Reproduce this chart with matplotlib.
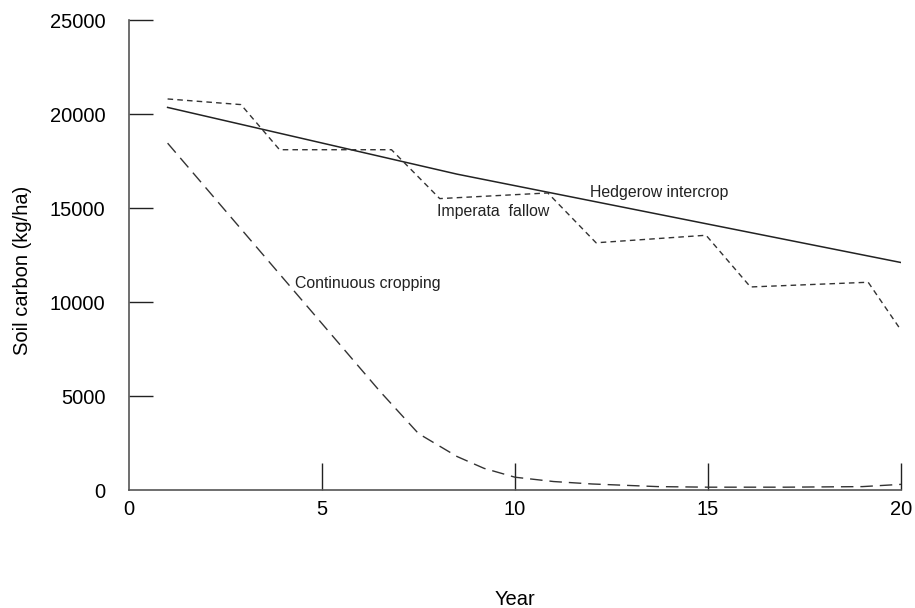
import matplotlib
matplotlib.use("Agg")
import matplotlib.pyplot as plt

plt.rcParams['font.family'] = ['Liberation Sans', 'DejaVu Sans']

# hedgerow intercrop (solid)
hedge_x = [1, 8.5, 20]
hedge_y = [20350, 16800, 12100]

# imperata fallow (short dashes)
fallow_x = [1, 2.9, 3.9, 6.8, 8.05, 10.85, 12.1, 14.95, 16.1, 19.15, 20]
fallow_y = [20800, 20500, 18100, 18100, 15500, 15800, 13150, 13550, 10800, 11050, 8500]

# continuous cropping (long dashes)
cont_x = [1, 6.5, 7.5, 8.5, 9.2, 10, 11, 12, 13.7, 15, 17, 19, 20]
cont_y = [18450, 5250, 3000, 1780, 1150, 680, 450, 320, 180, 150, 150, 180, 300]

xticks = [0, 5, 10, 15, 20]
yticks = [0, 5000, 10000, 15000, 20000, 25000]

fig = plt.figure(figsize=(9.15, 6.08), dpi=100)
ax = fig.add_axes([129/915, 1 - 490/608, (901-129)/915, (490-20)/608])

ax.plot(hedge_x, hedge_y, color='#222222', lw=1.1)
ax.plot(fallow_x, fallow_y, color='#333333', lw=1.0, dashes=(4, 3))
ax.plot(cont_x, cont_y, color='#333333', lw=1.0, dashes=(9, 5))

ax.text(11.95, 15850, 'Hedgerow intercrop', fontsize=11.4, va='center', color='#222222')
ax.text(7.98, 14790, 'Imperata  fallow', fontsize=11.4, va='center', color='#222222')
ax.text(4.3, 11010, 'Continuous cropping', fontsize=11.4, va='center', color='#222222')

ax.set_xlim(0, 20)
ax.set_ylim(0, 25000)
ax.set_xticks(xticks)
ax.set_yticks(yticks)
ax.tick_params(axis='x', direction='in', length=19.5, width=1.0, color='#222222', pad=7, labelsize=14.5)
ax.tick_params(axis='y', direction='in', length=17.5, width=1.0, color='#222222', pad=17, labelsize=14.5)
# the zero ticks sit on the spines, hide them
ax.xaxis.get_major_ticks()[0].tick1line.set_visible(False)
ax.yaxis.get_major_ticks()[0].tick1line.set_visible(False)

for s in ['top', 'right']:
    ax.spines[s].set_visible(False)
for s in ['left', 'bottom']:
    ax.spines[s].set_color('#555555')
    ax.spines[s].set_linewidth(1.2)

ax.set_xlabel('Year', fontsize=14.5)
ax.set_ylabel('Soil carbon (kg/ha)', fontsize=14.5)
ax.xaxis.set_label_coords(0.5, -0.213)
ax.yaxis.set_label_coords(-0.126, 0.468)

fig.savefig('out.png', dpi=100)
